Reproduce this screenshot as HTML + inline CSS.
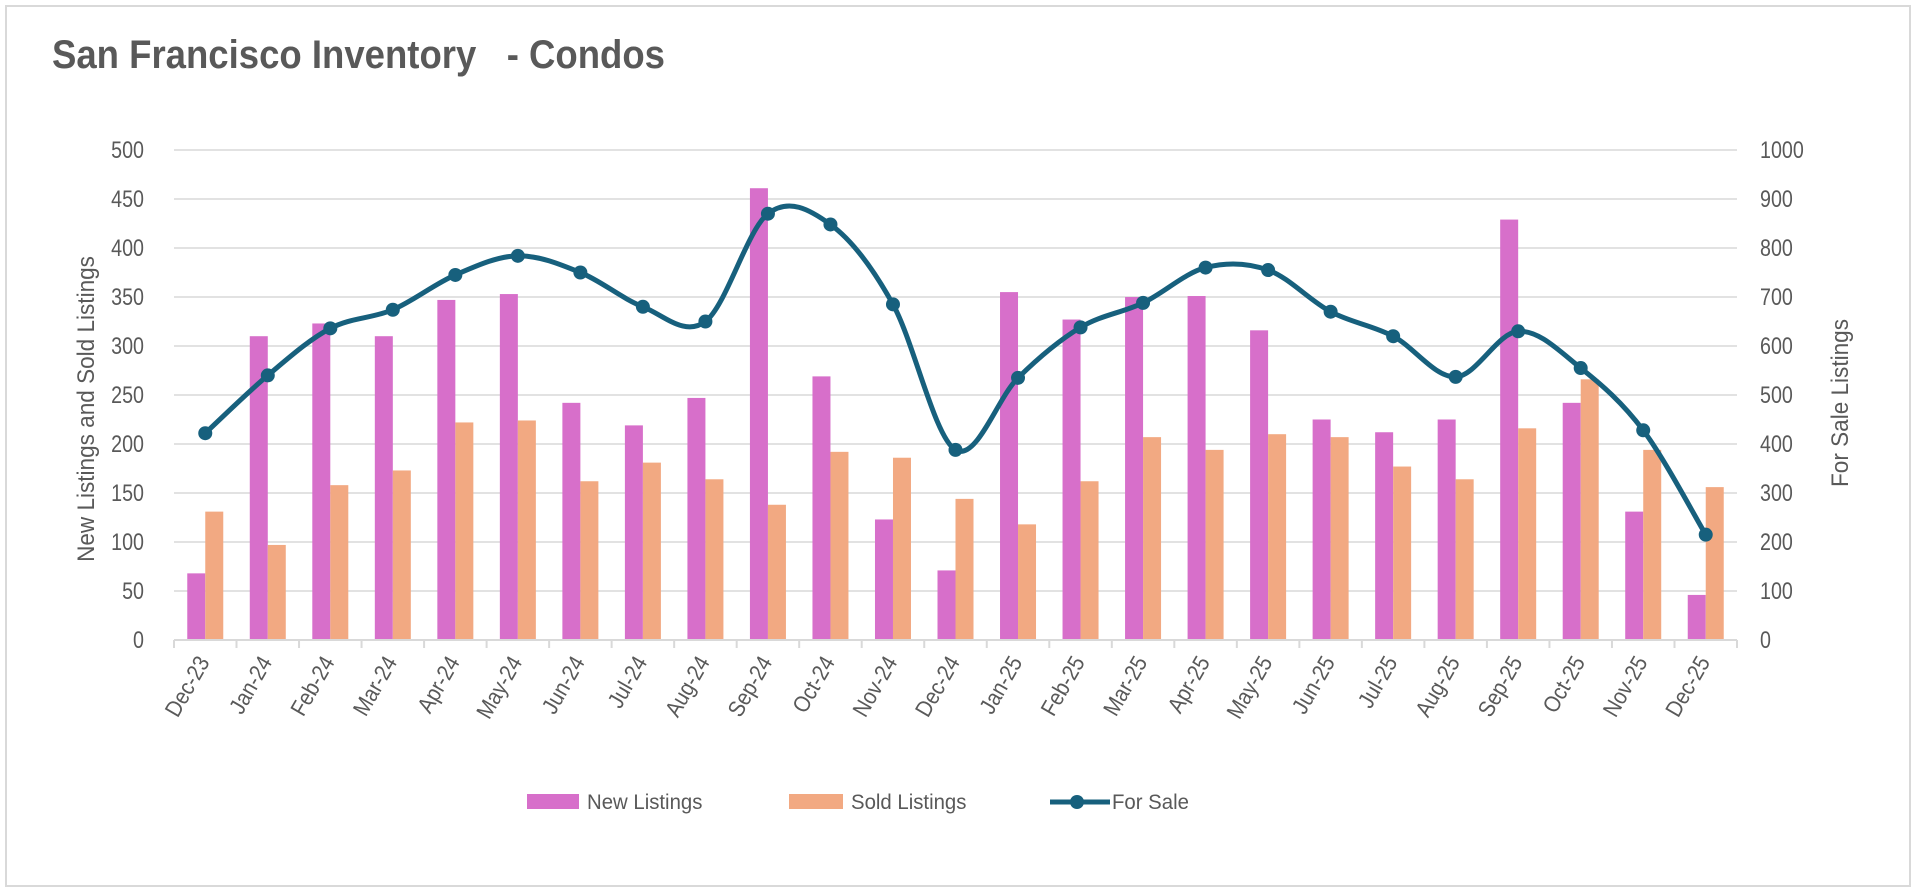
<!DOCTYPE html>
<html><head><meta charset="utf-8"><style>
html,body{margin:0;padding:0;background:#fff;}
svg{display:block;font-family:"Liberation Sans Narrow","Liberation Sans",sans-serif;}
</style></head><body>
<svg id="chart" width="1920" height="894" viewBox="0 0 1920 894" xmlns="http://www.w3.org/2000/svg">
<rect x="6" y="6" width="1904" height="880" fill="#fff" stroke="#d9d9d9" stroke-width="2"/>
<text x="52" y="68" font-size="40" font-weight="bold" fill="#595959" textLength="613" lengthAdjust="spacingAndGlyphs" xml:space="preserve">San Francisco Inventory   - Condos</text>
<g id="grid"></g><g id="bars"></g><g id="axes"></g><g id="line"></g>
<text transform="translate(94,409) rotate(-90) scale(0.94,1)" text-anchor="middle" font-size="24" fill="#595959">New Listings and Sold Listings</text>
<text transform="translate(1848,403) rotate(-90) scale(0.94,1)" text-anchor="middle" font-size="24" fill="#595959">For Sale Listings</text>
<g>
<g><rect x="527" y="794" width="52" height="15" fill="#d76fca"/><text transform="translate(587,809) scale(0.97,1)" font-size="21" fill="#595959">New Listings</text></g>
<g><rect x="789" y="794" width="54" height="15" fill="#f2a982"/><text transform="translate(851,809) scale(0.97,1)" font-size="21" fill="#595959">Sold Listings</text></g>
<g><line x1="1050" y1="802" x2="1110" y2="802" stroke="#17607d" stroke-width="5"/><circle cx="1077" cy="802" r="7" fill="#17607d"/><text transform="translate(1112,809) scale(0.97,1)" font-size="21" fill="#595959">For Sale</text></g>
</g>
</svg>
<script>
const categories=["Dec-23","Jan-24","Feb-24","Mar-24","Apr-24","May-24","Jun-24","Jul-24","Aug-24","Sep-24","Oct-24","Nov-24","Dec-24","Jan-25","Feb-25","Mar-25","Apr-25","May-25","Jun-25","Jul-25","Aug-25","Sep-25","Oct-25","Nov-25","Dec-25"];
const newListings=[68,310,323,310,347,353,242,219,247,461,269,123,71,355,327,350,351,316,225,212,225,429,242,131,46];
const soldListings=[131,97,158,173,222,224,162,181,164,138,192,186,144,118,162,207,194,210,207,177,164,216,266,194,156];
const forSale=[422,540,636,674,745,784,750,680,650,870,848,685,388,535,638,688,760,755,670,620,537,630,555,428,215];
const leftTicks=[0,50,100,150,200,250,300,350,400,450,500];
const rightTicks=[0,100,200,300,400,500,600,700,800,900,1000];
const NS="http://www.w3.org/2000/svg";
const X0=174,X1=1737,Y0=640,Y1=150;
const step=(X1-X0)/categories.length;
const xc=i=>X0+step*(i+0.5);
const yL=v=>Y0-(v/500)*(Y0-Y1);
const yR=v=>Y0-(v/1000)*(Y0-Y1);
function mk(tag,attrs,parent){const e=document.createElementNS(NS,tag);for(const k in attrs)e.setAttribute(k,attrs[k]);parent.appendChild(e);return e;}
const grid=document.getElementById('grid'),bars=document.getElementById('bars'),axes=document.getElementById('axes'),lineG=document.getElementById('line');
leftTicks.forEach((t,i)=>{
  if(t>0){const g=mk('line',{x1:X0,x2:X1,y1:yL(t),y2:yL(t),stroke:'#d9d9d9','stroke-width':1.5},grid);
  
  }
  const l=mk('text',{transform:`translate(144,${yL(t)+8}) scale(0.82,1)`,'text-anchor':'end','font-size':24,fill:'#595959'},axes);l.textContent=t;
  
  
});
rightTicks.forEach(t=>{
  const l=mk('text',{transform:`translate(1760,${yR(t)+8}) scale(0.82,1)`,'font-size':24,fill:'#595959'},axes);l.textContent=t;
  
  
});
const ax=mk('line',{x1:X0,x2:X1,y1:Y0,y2:Y0,stroke:'#d9d9d9','stroke-width':2},axes);


for(let i=0;i<=categories.length;i++){
  const tk=mk('line',{x1:X0+step*i,x2:X0+step*i,y1:Y0,y2:Y0+8,stroke:'#d9d9d9','stroke-width':2},axes);
  
  
}
const bw=18;
categories.forEach((c,i)=>{
  const b1=mk('rect',{x:xc(i)-bw,y:yL(newListings[i]),width:bw,height:Y0-yL(newListings[i]),fill:'#d76fca'},bars);
  
  
  const b2=mk('rect',{x:xc(i),y:yL(soldListings[i]),width:bw,height:Y0-yL(soldListings[i]),fill:'#f2a982'},bars);
  
  
  const t=mk('text',{transform:`translate(${xc(i)+5},${Y0+22}) rotate(-60) scale(0.88,1)`,'text-anchor':'end','font-size':23,fill:'#595959'},axes);
  t.textContent=c;
  
  
});
const pts=forSale.map((v,i)=>[xc(i),yR(v)]);
let d=`M${pts[0][0]},${pts[0][1]}`;
for(let i=0;i<pts.length-1;i++){
  const p0=pts[Math.max(0,i-1)],p1=pts[i],p2=pts[i+1],p3=pts[Math.min(pts.length-1,i+2)];
  const c1=[p1[0]+(p2[0]-p0[0])/6,p1[1]+(p2[1]-p0[1])/6];
  const c2=[p2[0]-(p3[0]-p1[0])/6,p2[1]-(p3[1]-p1[1])/6];
  d+=` C${c1[0]},${c1[1]} ${c2[0]},${c2[1]} ${p2[0]},${p2[1]}`;
}
const path=mk('path',{d:d,fill:'none',stroke:'#17607d','stroke-width':5,'stroke-linejoin':'round'},lineG);


pts.forEach(p=>{
  const m=mk('circle',{cx:p[0],cy:p[1],r:7,fill:'#17607d'},lineG);
  
  
});
</script>
</body></html>
